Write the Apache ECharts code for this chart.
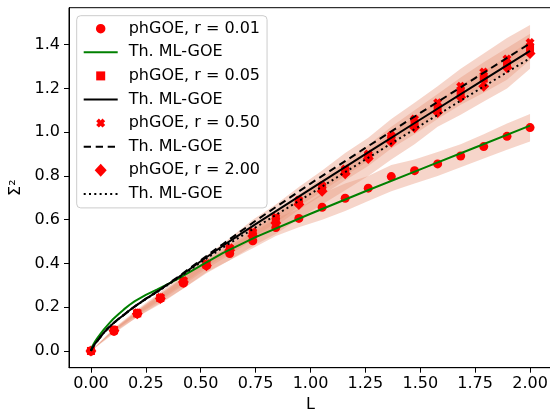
<!DOCTYPE html>
<html>
<head>
<meta charset="utf-8">
<script src="https://cdn.jsdelivr.net/npm/echarts@6/dist/echarts.min.js"></script>
<style>
  html, body { margin: 0; padding: 0; background: #fff; }
  #chart { width: 550px; height: 410px; }
</style>
</head>
<body>
<div id="chart"></div>
<script>
// Interval lengths L at which the number variance was sampled
const L = [0, 0.105, 0.211, 0.316, 0.421, 0.526, 0.632, 0.737, 0.842, 0.947,
           1.053, 1.158, 1.263, 1.368, 1.474, 1.579, 1.684, 1.789, 1.895, 2.0];

// phGOE number variance, one array per r
const phR001 = [0, 0.09, 0.17, 0.24, 0.31, 0.39, 0.445, 0.504, 0.564, 0.606,
                0.657, 0.698, 0.744, 0.797, 0.824, 0.855, 0.891, 0.934, 0.981, 1.021];
const phR005 = [0, 0.095, 0.172, 0.242, 0.318, 0.395, 0.465, 0.535, 0.60, 0.68,
                0.745, 0.82, 0.89, 0.97, 1.04, 1.11, 1.185, 1.245, 1.31, 1.385];
const phR050 = [0, 0.097, 0.175, 0.245, 0.322, 0.40, 0.472, 0.545, 0.612, 0.69,
                0.755, 0.832, 0.90, 0.985, 1.06, 1.135, 1.21, 1.275, 1.335, 1.41];
const phR200 = [0, 0.094, 0.17, 0.24, 0.315, 0.39, 0.46, 0.525, 0.585, 0.67,
                0.73, 0.81, 0.88, 0.955, 1.02, 1.09, 1.16, 1.21, 1.295, 1.36];

// Spread (lower / upper edge) of each phGOE ensemble
const bandR001Lo = [0, 0.08, 0.155, 0.22, 0.285, 0.36, 0.415, 0.47, 0.525, 0.565,
                    0.60, 0.64, 0.685, 0.73, 0.765, 0.80, 0.84, 0.88, 0.92, 0.957];
const bandR001Hi = [0, 0.10, 0.185, 0.26, 0.335, 0.415, 0.475, 0.54, 0.605, 0.65,
                    0.72, 0.765, 0.80, 0.85, 0.875, 0.91, 0.945, 0.99, 1.04, 1.083];
const bandR005Lo = [0, 0.092, 0.168, 0.235, 0.308, 0.385, 0.452, 0.52, 0.585, 0.662,
                    0.73, 0.80, 0.868, 0.948, 1.015, 1.085, 1.155, 1.215, 1.28, 1.355];
const bandR005Hi = [0, 0.098, 0.178, 0.252, 0.33, 0.408, 0.48, 0.552, 0.62, 0.70,
                    0.765, 0.845, 0.915, 0.995, 1.07, 1.14, 1.215, 1.28, 1.345, 1.42];
const bandR050Lo = [0, 0.09, 0.163, 0.228, 0.30, 0.375, 0.44, 0.508, 0.57, 0.645,
                    0.712, 0.78, 0.845, 0.925, 0.99, 1.06, 1.125, 1.18, 1.24, 1.33];
const bandR050Hi = [0, 0.10, 0.183, 0.26, 0.338, 0.418, 0.49, 0.568, 0.635, 0.715,
                    0.79, 0.865, 0.94, 1.025, 1.10, 1.175, 1.25, 1.32, 1.385, 1.45];
const bandR200Lo = [0, 0.085, 0.155, 0.215, 0.285, 0.355, 0.415, 0.48, 0.535, 0.605,
                    0.67, 0.735, 0.80, 0.875, 0.945, 1.025, 1.08, 1.14, 1.20, 1.29];
const bandR200Hi = [0, 0.105, 0.19, 0.27, 0.35, 0.435, 0.515, 0.60, 0.67, 0.75,
                    0.825, 0.905, 0.975, 1.06, 1.135, 1.21, 1.29, 1.36, 1.43, 1.49];

// Theoretical ML-GOE curves
const thL    = [0, 0.005, 0.01, 0.02, 0.03, 0.045, 0.06, 0.08, 0.1, 0.125, 0.15, 0.175, 0.2,
                0.25, 0.3, 0.35, 0.4, 0.5, 0.6, 0.75, 1.0, 1.25, 1.5, 1.75, 2.0];
const thR001 = [0, 0.018, 0.028, 0.045, 0.06, 0.08, 0.10, 0.123, 0.145, 0.168, 0.19, 0.21, 0.228,
                0.256, 0.28, 0.305, 0.332, 0.39, 0.447, 0.52, 0.627, 0.73, 0.83, 0.93, 1.03];
const thR005 = [0, 0.012, 0.02, 0.035, 0.047, 0.067, 0.085, 0.106, 0.125, 0.146, 0.165, 0.185, 0.204,
                0.238, 0.27, 0.304, 0.338, 0.41, 0.48, 0.58, 0.74, 0.90, 1.058, 1.215, 1.372];
const thR050 = [0, 0.012, 0.02, 0.035, 0.047, 0.067, 0.085, 0.106, 0.125, 0.146, 0.165, 0.185, 0.204,
                0.239, 0.271, 0.306, 0.341, 0.415, 0.488, 0.595, 0.765, 0.928, 1.088, 1.247, 1.406];
const thR200 = [0, 0.012, 0.02, 0.035, 0.047, 0.067, 0.085, 0.106, 0.125, 0.146, 0.165, 0.185, 0.204,
                0.237, 0.268, 0.302, 0.335, 0.405, 0.472, 0.565, 0.718, 0.875, 1.03, 1.185, 1.338];

// Tick positions
const xTicks = [0, 0.25, 0.5, 0.75, 1.0, 1.25, 1.5, 1.75, 2.0];
const yTicks = [0, 0.2, 0.4, 0.6, 0.8, 1.0, 1.2, 1.4];

const FONT = 'DejaVu Sans';
const RED = '#ff0000';
const BAND = 'rgba(233, 150, 122, 0.4)';
const SQUARE = 'path://M0,0 L10,0 L10,10 L0,10 Z';
const DIAMOND = 'path://M5,0 L10,5 L5,10 L0,5 Z';
const X_MARK = 'path://M3,0 L5,2 L7,0 L10,3 L8,5 L10,7 L7,10 L5,8 L3,10 L0,7 L2,5 L0,3 Z';

// Legend glyphs in a shared 13x13 box (leading moveTo points fix the box size)
const LEG_CIRCLE  = 'path://M0,0 M13,13 M6.5,1.75 A4.75,4.75 0 1 1 6.49,1.75 Z';
const LEG_SQUARE  = 'path://M0,0 M13,13 M2,2 L11,2 L11,11 L2,11 Z';
const LEG_X       = 'path://M0,0 M13,13 M4.7,2 L6.5,3.8 L8.3,2 L11,4.7 L9.2,6.5 L11,8.3 L8.3,11 L6.5,9.2 L4.7,11 L2,8.3 L3.8,6.5 L2,4.7 Z';
const LEG_DIAMOND = 'path://M0,0 M13,13 M6.5,0 L12.5,6.5 L6.5,13 L0.5,6.5 Z';

const pairs = (xs, ys) => xs.map((x, i) => [x, ys[i]]);

// Shaded spread between two edges, drawn as one polygon in data coordinates
function band(lo, hi) {
  return {
    type: 'custom', z: 1, silent: true, clip: true,
    data: [[0, 0]],
    renderItem: (params, api) => {
      const top = L.map((x, i) => api.coord([x, hi[i]]));
      const bottom = L.map((x, i) => api.coord([x, lo[i]])).reverse();
      return { type: 'polygon', shape: { points: top.concat(bottom) }, style: { fill: BAND } };
    }
  };
}

function points(name, ys, symbol, size) {
  return { name, type: 'scatter', z: 3, data: pairs(L, ys), symbol, symbolSize: size,
           itemStyle: { color: RED, opacity: 1 } };
}

function theory(name, ys, color, dash) {
  return { name, type: 'line', z: 4, data: pairs(thL, ys), symbol: 'none', showSymbol: false,
           lineStyle: { color, width: 2, type: dash }, itemStyle: { color } };
}

const names = {
  p1: 'phGOE, r = 0.01', t1: 'Th. ML-GOE (r = 0.01)',
  p2: 'phGOE, r = 0.05', t2: 'Th. ML-GOE (r = 0.05)',
  p3: 'phGOE, r = 0.50', t3: 'Th. ML-GOE (r = 0.50)',
  p4: 'phGOE, r = 2.00', t4: 'Th. ML-GOE (r = 2.00)'
};
const noMarker = { color: 'rgba(0,0,0,0)', borderColor: 'rgba(0,0,0,0)', borderWidth: 0 };

const chart = echarts.init(document.getElementById('chart'), null, { renderer: 'canvas' });
chart.setOption({
  animation: false,
  backgroundColor: '#fff',
  textStyle: { fontFamily: FONT },
  grid: { left: 69, top: 7.7, width: 483, height: 360, containLabel: false, outerBoundsMode: 'none',
          show: true, borderColor: '#000', borderWidth: 1, backgroundColor: 'transparent' },
  xAxis: {
    type: 'value', min: -0.1, max: 2.1,
    name: 'L', nameLocation: 'middle', nameGap: 25,
    nameTextStyle: { fontFamily: FONT, fontSize: 16, color: '#000' },
    axisLine: { show: true, onZero: false, lineStyle: { color: '#000', width: 1 } },
    axisTick: { show: true, length: 5, customValues: xTicks, lineStyle: { color: '#000', width: 1 } },
    axisLabel: { customValues: xTicks, margin: 8, fontFamily: FONT, fontSize: 16, color: '#000',
                 formatter: v => v.toFixed(2) },
    splitLine: { show: false }
  },
  yAxis: {
    type: 'value', min: -0.0765, max: 1.569,
    name: 'Σ²', nameLocation: 'middle', nameGap: 38, nameRotate: 90,
    nameTextStyle: { fontFamily: FONT, fontSize: 16, color: '#000' },
    axisLine: { show: true, onZero: false, lineStyle: { color: '#000', width: 1 } },
    axisTick: { show: true, length: 5, customValues: yTicks, lineStyle: { color: '#000', width: 1 } },
    axisLabel: { customValues: yTicks, margin: 9, fontFamily: FONT, fontSize: 16, color: '#000',
                 formatter: v => v.toFixed(1) },
    splitLine: { show: false }
  },
  legend: {
    orient: 'vertical', left: 76.7, top: 15.7, z: 10,
    data: [
      { name: names.p1, icon: LEG_CIRCLE },
      { name: names.t1, itemStyle: noMarker },
      { name: names.p2, icon: LEG_SQUARE },
      { name: names.t2, itemStyle: noMarker },
      { name: names.p3, icon: LEG_X },
      { name: names.t3, itemStyle: noMarker },
      { name: names.p4, icon: LEG_DIAMOND },
      { name: names.t4, itemStyle: noMarker }
    ],
    symbolKeepAspect: true,
    itemWidth: 34, itemHeight: 13, itemGap: 7.6,
    padding: [5, 7, 6, 6],
    backgroundColor: 'rgba(255,255,255,0.8)',
    borderColor: '#cccccc', borderWidth: 1, borderRadius: 4,
    selectedMode: false,
    formatter: n => n.startsWith('Th.') ? 'Th. ML-GOE' : n,
    textStyle: { fontFamily: FONT, fontSize: 16, color: '#000', lineHeight: 16, padding: [0, 0, 0, 6] }
  },
  series: [
    band(bandR001Lo, bandR001Hi),
    band(bandR005Lo, bandR005Hi),
    band(bandR050Lo, bandR050Hi),
    band(bandR200Lo, bandR200Hi),
    points(names.p1, phR001, 'circle', 9),
    points(names.p2, phR005, SQUARE, 8),
    points(names.p3, phR050, X_MARK, 9),
    points(names.p4, phR200, DIAMOND, 11),
    theory(names.t1, thR001, '#008000', 'solid'),
    theory(names.t2, thR005, '#000', 'solid'),
    theory(names.t3, thR050, '#000', [7.3, 4.7]),
    theory(names.t4, thR200, '#000', [2, 3.3])
  ]
});
</script>
</body>
</html>
